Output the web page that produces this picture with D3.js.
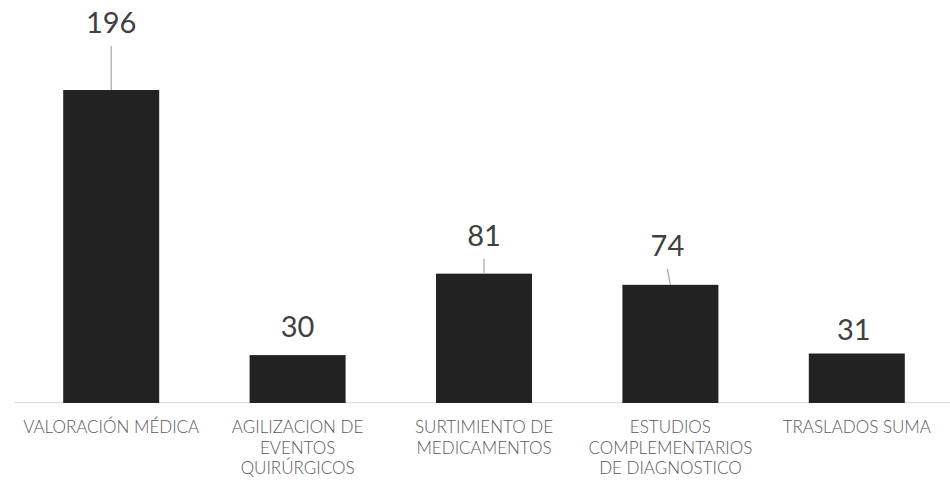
<!DOCTYPE html>
<html>
<head>
<meta charset="utf-8">
<script src="https://cdn.jsdelivr.net/npm/d3@7"></script>
<style>
  html, body { margin: 0; padding: 0; background: #ffffff; }
  svg { display: block; }
</style>
</head>
<body>
<svg id="chart" width="950" height="488"></svg>
<script>
// Categories (each entry split into the lines shown under its bar)
const categories = [
  "VALORACIÓN MÉDICA",
  "AGILIZACION DE EVENTOS QUIRÚRGICOS",
  "SURTIMIENTO DE MEDICAMENTOS",
  "ESTUDIOS COMPLEMENTARIOS DE DIAGNOSTICO",
  "TRASLADOS SUMA"
];
const categoryLines = [
  ["VALORACIÓN MÉDICA"],
  ["AGILIZACION DE", "EVENTOS", "QUIRÚRGICOS"],
  ["SURTIMIENTO DE", "MEDICAMENTOS"],
  ["ESTUDIOS", "COMPLEMENTARIOS", "DE DIAGNOSTICO"],
  ["TRASLADOS SUMA"]
];
const values = [196, 30, 81, 74, 31];

// Layout of the value labels: distance of the label baseline above the bar
// top, and a small horizontal nudge. Labels lifted far enough get a leader line.
const labelLift = [57, 18, 28, 29, 13];
const labelNudge = [0, 0, 0, -3, -3];

const svg = d3.select("#chart");
const W = 950;

const x = d3.scaleBand()
  .domain(categories)
  .range([18, W])
  .paddingInner(0.485)
  .paddingOuter(0.2425);

const y = d3.scaleLinear()
  .domain([0, 196])
  .range([403, 90]);

const data = categories.map((c, i) => ({
  cat: c, lines: categoryLines[i], value: values[i],
  lift: labelLift[i], nudge: labelNudge[i]
}));

// Baseline axis with category labels
const axis = svg.append("g")
  .attr("transform", `translate(0,${y(0) - 1})`)
  .call(d3.axisBottom(x).tickSize(0).tickFormat(""));
axis.select(".domain")
  .attr("d", `M15,0.5H${W}`)
  .attr("stroke", "#d9d9d9")
  .attr("stroke-width", 1.2);

// Bars
svg.append("g")
  .selectAll("rect")
  .data(data)
  .join("rect")
  .attr("x", d => x(d.cat))
  .attr("width", x.bandwidth())
  .attr("y", d => y(d.value))
  .attr("height", d => y(0) - y(d.value))
  .attr("fill", "#222222");

// Category labels
const catText = svg.append("g")
  .selectAll("text")
  .data(data)
  .join("text")
  .attr("x", d => x(d.cat) + x.bandwidth() / 2)
  .attr("y", 433)
  .attr("text-anchor", "middle")
  .attr("font-family", "Lato, 'Open Sans', sans-serif")
  .attr("font-size", 17)
  .attr("font-weight", 300)
  .attr("fill", "#595959");
catText.selectAll("tspan")
  .data(d => d.lines.map(l => ({ l, cx: x(d.cat) + x.bandwidth() / 2 })))
  .join("tspan")
  .attr("x", t => t.cx)
  .attr("dy", (t, i) => i === 0 ? 0 : 20.5)
  .text(t => t.l);

// Leader lines for lifted value labels
svg.append("g")
  .selectAll("line")
  .data(data.filter(d => d.lift > 20))
  .join("line")
  .attr("x1", d => x(d.cat) + x.bandwidth() / 2 + d.nudge)
  .attr("y1", d => y(d.value) - d.lift + 13)
  .attr("x2", d => x(d.cat) + x.bandwidth() / 2)
  .attr("y2", d => y(d.value))
  .attr("stroke", "#a6a6a6")
  .attr("stroke-width", 1.2);

// Value labels
svg.append("g")
  .selectAll("text")
  .data(data)
  .join("text")
  .attr("x", d => x(d.cat) + x.bandwidth() / 2 + d.nudge)
  .attr("y", d => y(d.value) - d.lift)
  .attr("text-anchor", "middle")
  .attr("font-family", "Lato, 'Open Sans', sans-serif")
  .attr("font-size", 29)
  .attr("fill", "#404040")
  .text(d => d.value);
</script>
</body>
</html>
